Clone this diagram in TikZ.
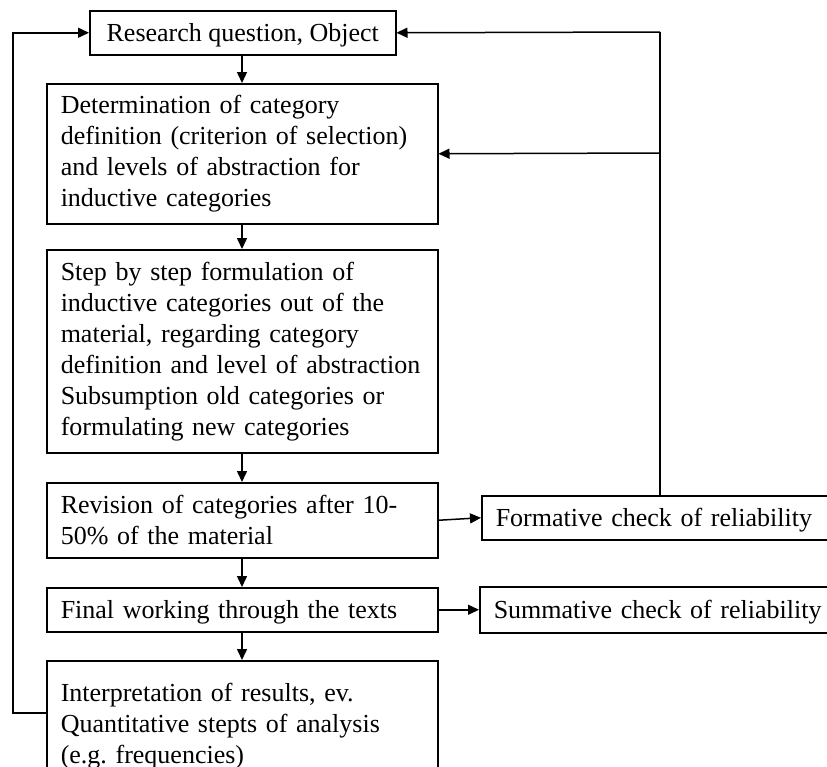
\documentclass[tikz,border=0pt]{standalone}
\usepackage{fontspec}
\setmainfont{Liberation Serif}
\usetikzlibrary{arrows.meta}
\frenchspacing

\tikzset{
  stepbox/.style={draw, rectangle, line width=1.5pt, anchor=north west,
    inner xsep=14pt, inner ysep=0pt, align=left,
    font=\fontsize{26}{31}\selectfont},
  oneline/.style={text depth=0pt},
  flow/.style={line width=1.5pt, -{Triangle[length=11pt,width=10pt]}},
  link/.style={line width=1.5pt}
}

\begin{document}
\begin{tikzpicture}[x=1pt,y=-1pt]
  \useasboundingbox (0,0) rectangle (827,766);
  \clip (0,0) rectangle (827,766);

  % main column
  \node[stepbox, oneline, align=center, inner xsep=0pt, minimum width=306pt, minimum height=44pt]
    (q) at (89,10) {Research question, Object};
  \node[stepbox, text width=363pt, minimum height=140pt] (def) at (46,83)
    {Determination of category\\definition (criterion of selection)\\and levels of abstraction for\\inductive categories};
  \node[stepbox, text width=363pt, minimum height=203pt] (form) at (46,249)
    {Step by step formulation of\\inductive categories out of the\\material, regarding category\\definition and level of abstraction\\Subsumption old categories or\\formulating new categories};
  \node[stepbox, text width=363pt, minimum height=75pt] (rev) at (46,482)
    {Revision of categories after 10-\\50\% of the material};
  \node[stepbox, oneline, text width=363pt, minimum height=44pt] (fin) at (46,587)
    {Final working through the texts};
  \node[stepbox, text width=363pt, minimum height=130pt] (interp) at (46,660)
    {Interpretation of results, ev.\\Quantitative stepts of analysis\\(e.g. frequencies)};

  % reliability checks on the right
  \node[stepbox, oneline, text width=340pt, minimum height=44pt] (formative) at (481,495)
    {Formative check of reliability};
  \node[stepbox, oneline, text width=340pt, minimum height=46pt] (summative) at (479,586)
    {Summative check of reliability};

  % downward flow
  \draw[flow] (q.south -| 242,0) -- (def.north -| 242,0);
  \draw[flow] (def.south -| 242,0) -- (form.north -| 242,0);
  \draw[flow] (form.south -| 242,0) -- (rev.north -| 242,0);
  \draw[flow] (rev.south -| 242,0) -- (fin.north -| 242,0);
  \draw[flow] (fin.south -| 242,0) -- (interp.north -| 242,0);

  % to the checks
  \draw[flow] (rev.east) -- (formative.west);
  \draw[flow] (fin.east) -- (summative.west);

  % feedback from the formative check
  \coordinate (fb) at (660,32);
  \coordinate (fbmid) at (660,153);
  \draw[link] (formative.north -| fb) -- (fb);
  \draw[flow] (fb) -- (q.east);
  \draw[flow] (fbmid) -- (def.east);

  % loop back from interpretation
  \coordinate (loop) at (13,713);
  \draw[flow] (interp.west |- loop) -- (loop) |- (q.west);
\end{tikzpicture}
\end{document}
